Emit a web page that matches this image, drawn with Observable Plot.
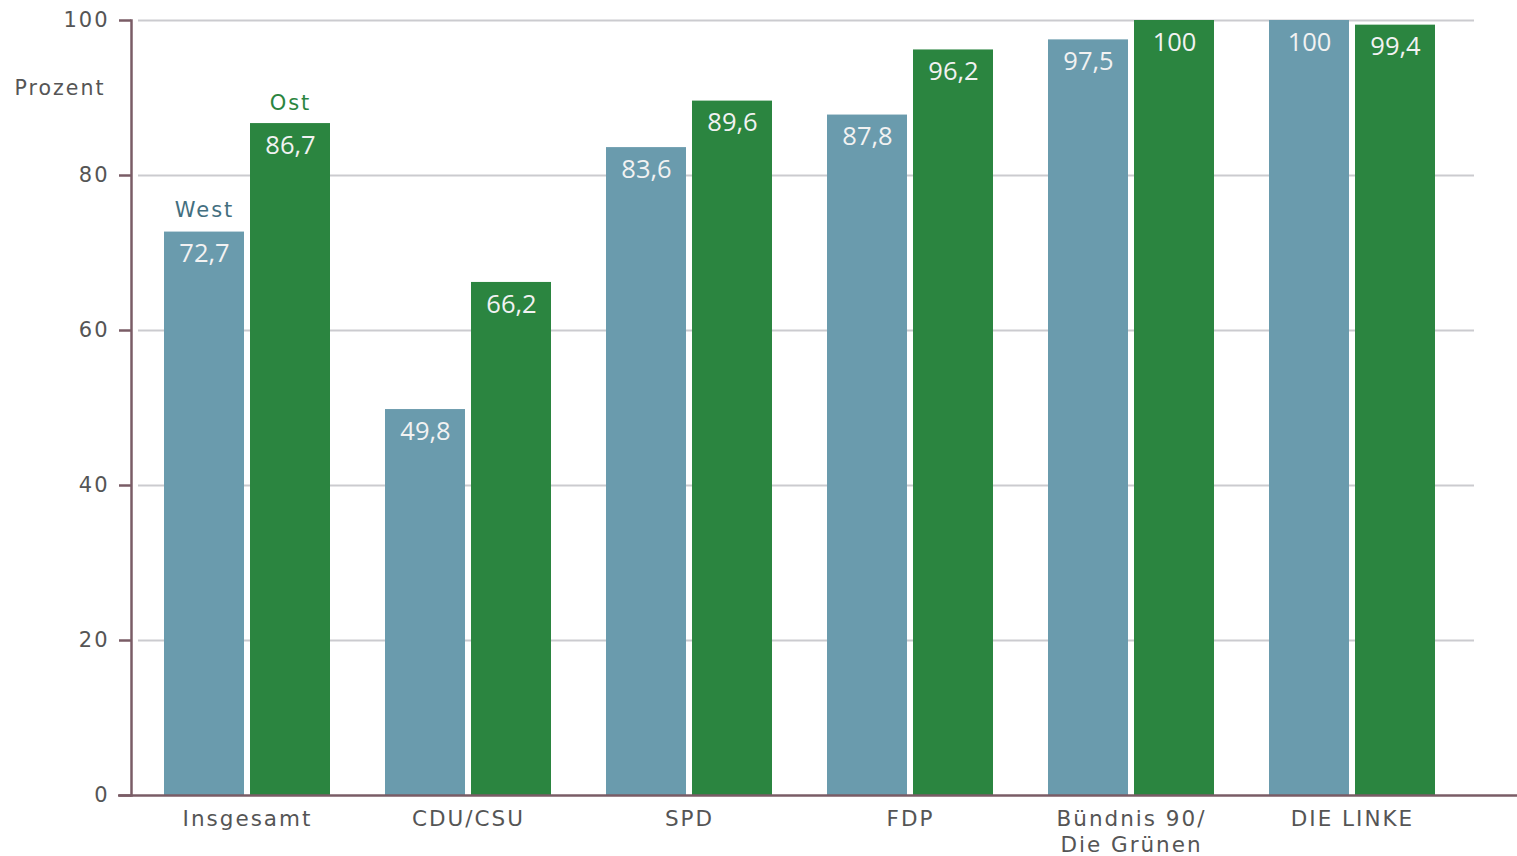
<!DOCTYPE html>
<html>
<head>
<meta charset="utf-8">
<script src="https://cdn.jsdelivr.net/npm/d3@7"></script>
<script src="https://cdn.jsdelivr.net/npm/@observablehq/plot@0.6"></script>
<style>
  html, body { margin: 0; padding: 0; background: #fff; }
  #chart svg { display: block; }
  #chart svg [aria-label="y-axis tick label"] text,
  #chart svg [aria-label="x-axis tick label"] text,
  #chart svg [font-family="DejaVu Sans"] text,
  #chart svg text[font-family="DejaVu Sans"] { letter-spacing: 2px; }
</style>
</head>
<body>
<div id="chart"></div>
<script>
const categories = ["Insgesamt", "CDU/CSU", "SPD", "FDP", "Bündnis 90/\nDie Grünen", "DIE LINKE"];
const westValues = [72.7, 49.8, 83.6, 87.8, 97.5, 100];
const ostValues = [86.7, 66.2, 89.6, 96.2, 100, 99.4];
const seriesNames = ["West", "Ost"];
const yTicks = [0, 20, 40, 60, 80, 100];

const westColor = "#6a9bad";
const ostColor = "#2b8540";
const axisColor = "#7a5c66";
const textColor = "#555555";

const west = categories.map((c, i) => ({category: c, value: westValues[i]}));
const ost = categories.map((c, i) => ({category: c, value: ostValues[i]}));
const seriesLabels = [
  {name: seriesNames[0], category: categories[0], value: westValues[0]},
  {name: seriesNames[1], category: categories[0], value: ostValues[0]}
];
const fmt = v => String(v).replace(".", ",");

const chart = Plot.plot({
  width: 1517,
  height: 856,
  marginLeft: 131,
  marginRight: 49,
  marginTop: 20,
  marginBottom: 61,
  style: {fontFamily: "'DejaVu Sans', Verdana, sans-serif", fontSize: "20.5px", background: "#fff"},
  x: {domain: categories, paddingInner: 0.25, paddingOuter: 0.1445, label: null},
  y: {domain: [0, 100], label: null},
  marks: [
    Plot.ruleY(yTicks.filter(d => d > 0), {y: d => d, stroke: "#cbcbcf", strokeWidth: 2, insetLeft: 7, insetRight: -6}),
    Plot.barY(west, {x: "category", y: "value", fill: westColor, insetRight: 86}),
    Plot.barY(ost, {x: "category", y: "value", fill: ostColor, insetLeft: 86}),
    Plot.text(west, {x: "category", y: "value", text: d => fmt(d.value), dx: -43, dy: 22, fill: "#f2f2f2", fontSize: 25.5, fontFamily: "'Open Sans', sans-serif", lineAnchor: "middle"}),
    Plot.text(ost, {x: "category", y: "value", text: d => fmt(d.value), dx: 43, dy: 22, fill: "#f2f2f2", fontSize: 25.5, fontFamily: "'Open Sans', sans-serif", lineAnchor: "middle"}),
    Plot.text(seriesLabels.slice(0, 1), {x: "category", y: "value", text: "name", dx: -43, dy: -22, fill: "#436f80", fontSize: 21, fontFamily: "DejaVu Sans", lineAnchor: "middle"}),
    Plot.text(seriesLabels.slice(1), {x: "category", y: "value", text: "name", dx: 43, dy: -20, fill: ostColor, fontSize: 21, fontFamily: "DejaVu Sans", lineAnchor: "middle"}),
    Plot.text(["Prozent"], {frameAnchor: "top-left", text: d => d, dx: -117, dy: 68, textAnchor: "start", lineAnchor: "middle", fill: textColor, fontFamily: "DejaVu Sans"}),
    Plot.axisY({ticks: yTicks, tickSize: 12, tickPadding: 10, stroke: axisColor, strokeWidth: 2.5, fill: textColor, label: null, fontSize: 21}),
    Plot.axisX({tickSize: 0, tickPadding: 12, fill: textColor, label: null, lineHeight: 1.22, fontSize: 21.5}),
    Plot.frame({anchor: "left", stroke: axisColor, strokeWidth: 2.5}),
    Plot.ruleY([0], {stroke: axisColor, strokeWidth: 2.5, insetLeft: -13, insetRight: -49})
  ]
});
document.getElementById("chart").appendChild(chart);
</script>
</body>
</html>
